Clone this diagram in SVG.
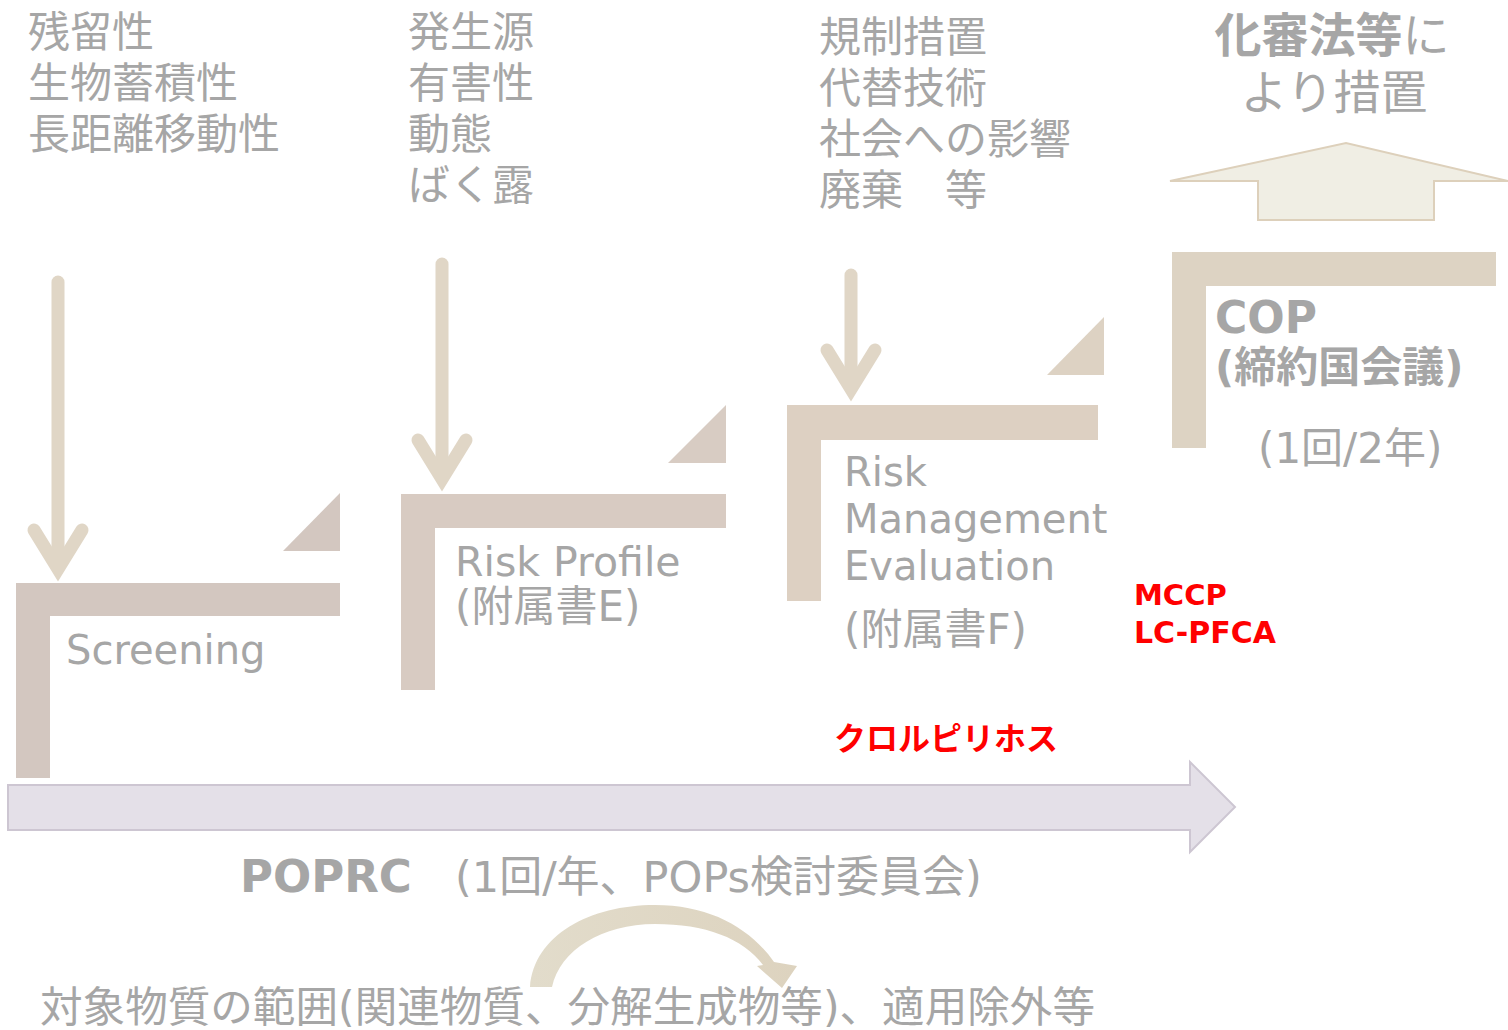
<svg xmlns="http://www.w3.org/2000/svg" width="1508" height="1030" viewBox="0 0 1508 1030">
<defs>
<style>
.t{font-family:"DejaVu Sans","Noto Sans CJK JP",sans-serif;fill:#a6a6a6}
.j{font-family:"Noto Sans CJK JP",sans-serif;fill:#a6a6a6}
.b{font-weight:bold}
.red{font-family:"DejaVu Sans","Noto Sans CJK JP",sans-serif;fill:#ff0000;font-weight:bold}
.down{stroke:#e0d6c6;stroke-width:13;fill:none;stroke-linecap:round;stroke-linejoin:miter}
</style>
<linearGradient id="cg" x1="0" y1="0" x2="1" y2="0">
<stop offset="0" stop-color="#e2dccb"/>
<stop offset="1" stop-color="#ddd3bf"/>
</linearGradient>
</defs>
<rect width="1508" height="1030" fill="#ffffff"/>

<g id="connectors">
<g id="down1"><line class="down" x1="58" y1="282" x2="58" y2="566"/><polyline class="down" points="34,530 58,569 82,530"/></g>
<g id="down2"><line class="down" x1="442" y1="264" x2="442" y2="476"/><polyline class="down" points="418,440 442,479 466,440"/></g>
<g id="down3"><line class="down" x1="851" y1="275" x2="851" y2="386"/><polyline class="down" points="827,350 851,389 875,350"/></g>
<path id="poprc-arrow" d="M8,785 L1190,785 L1190,762 L1235,807 L1190,852 L1190,830 L8,830 Z" fill="#e4e0e8" stroke="#cdc6d2" stroke-width="2"/>
<path id="up-arrow" d="M1170,181 L1346,143 L1508,181 L1434,181 L1434,220 L1258,220 L1258,181 Z" fill="#f0eee4" stroke="#ddd0bb" stroke-width="2"/>
<path id="curve-arrow" d="M530,987 C534,935 590,905 655,905 C710,905 750,928 774,962 L797,966 L782,988 L757,966 L763,965 C743,938 705,924 655,924 C602,924 560,950 552,987 Z" fill="url(#cg)"/>
</g>

<g id="node-screening">
<path d="M16,583 L340,583 L340,616 L50,616 L50,778 L16,778 Z" fill="#d3c7c0"/>
<path d="M283,551 L340,493 L340,551 Z" fill="#d3c7c0"/>
<text class="t" x="66" y="664" style="font-size:40px">Screening</text>
</g>

<g id="node-riskprofile">
<path d="M401,494 L726,494 L726,528 L435,528 L435,690 L401,690 Z" fill="#d8cbc2"/>
<path d="M668,463 L726,405 L726,463 Z" fill="#d8ccc3"/>
<text class="t" x="455" y="576" style="font-size:41px">Risk Profile</text>
<text class="t" x="455" y="621" style="font-size:42px">(附属書E)</text>
</g>

<g id="node-rme">
<path d="M787,405 L1098,405 L1098,440 L821,440 L821,601 L787,601 Z" fill="#ddd0c2"/>
<path d="M1047,375 L1104,317 L1104,375 Z" fill="#ddd2c3"/>
<text class="t" x="844" y="486" style="font-size:40px">Risk</text>
<text class="t" x="844" y="533" style="font-size:40px">Management</text>
<text class="t" x="844" y="580" style="font-size:40px">Evaluation</text>
<text class="t" x="844" y="644" style="font-size:42px">(附属書F)</text>
</g>

<g id="node-cop">
<path d="M1172,252 L1496,252 L1496,286 L1206,286 L1206,448 L1172,448 Z" fill="#ddd3c3"/>
<text class="t b" x="1215" y="333" style="font-size:44px">COP</text>
<text class="t b" x="1215" y="382" style="font-size:42px">(締約国会議)</text>
<text class="t" x="1258" y="463" style="font-size:42px">(1回/2年)</text>
</g>

<g id="node-kashinho">
<text class="j" x="1332" y="52" text-anchor="middle" style="font-size:47px"><tspan font-weight="bold">化審法等</tspan>に</text>
<text class="j" x="1334" y="109" text-anchor="middle" style="font-size:47px">より措置</text>
</g>

<g id="list1">
<text class="j" x="28" y="47" style="font-size:42px">残留性</text>
<text class="j" x="28" y="98" style="font-size:42px">生物蓄積性</text>
<text class="j" x="28" y="149" style="font-size:42px">長距離移動性</text>
</g>
<g id="list2">
<text class="j" x="408" y="47" style="font-size:42px">発生源</text>
<text class="j" x="408" y="98" style="font-size:42px">有害性</text>
<text class="j" x="408" y="149" style="font-size:42px">動態</text>
<text class="j" x="408" y="200" style="font-size:42px">ばく露</text>
</g>
<g id="list3">
<text class="j" x="819" y="52" style="font-size:42px">規制措置</text>
<text class="j" x="819" y="103" style="font-size:42px">代替技術</text>
<text class="j" x="819" y="154" style="font-size:42px">社会への影響</text>
<text class="j" x="819" y="205" style="font-size:42px">廃棄　等</text>
</g>

<g id="red-labels">
<text class="red" x="1134" y="605" style="font-size:29px">MCCP</text>
<text class="red" x="1134" y="643" style="font-size:30px">LC-PFCA</text>
<text class="red" x="834" y="750" style="font-size:32px">クロルピリホス</text>
</g>

<g id="poprc-label">
<text class="t b" x="240" y="892" style="font-size:45px">POPRC</text>
<text class="t" x="455" y="892" style="font-size:43px">(1回/年、POPs検討委員会)</text>
</g>

<g id="bottom-label">
<text class="t" x="40" y="1022" textLength="1055" lengthAdjust="spacingAndGlyphs" style="font-size:42px">対象物質の範囲(関連物質、分解生成物等)、適用除外等</text>
</g>
</svg>
